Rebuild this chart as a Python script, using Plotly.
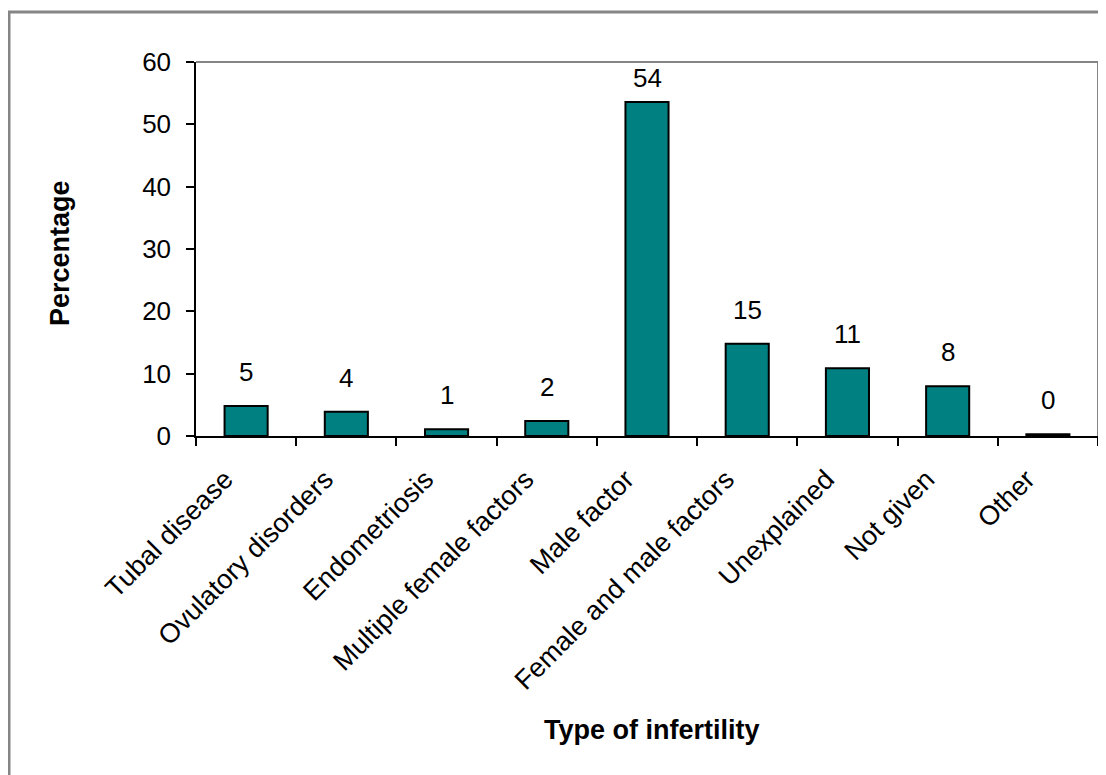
import plotly.graph_objects as go

categories = ["Tubal disease", "Ovulatory disorders", "Endometriosis",
              "Multiple female factors", "Male factor", "Female and male factors",
              "Unexplained", "Not given", "Other"]
percentages = [4.8, 3.9, 1.1, 2.4, 53.6, 14.8, 10.85, 8.0, 0.3]
value_labels = [str(round(v)) for v in percentages]

y_ticks = [0, 10, 20, 30, 40, 50, 60]

# page body has an 8px margin in the browser; lay out in screen pixels and offset
OFF = 8
W, H = 1106, 775
plot_left, plot_right, plot_top, plot_bottom = 196, 1098, 62, 436  # screen px
L = plot_left - OFF
T = plot_top - OFF
plot_w = plot_right - plot_left
plot_h = plot_bottom - plot_top
R = W - L - plot_w
B = H - T - plot_h
ymax = 60
px_per_unit = plot_h / ymax

FONT = "Liberation Sans, Arial, sans-serif"
FS = 26
FS_X = 27

fig = go.Figure()
fig.add_trace(go.Bar(
    x=categories, y=percentages,
    width=0.43,
    marker=dict(color="#008080", line=dict(color="black", width=2)),
    hoverinfo="x+y",
))

# data labels above bars (kept inside the plot area)
for c, v, lab in zip(categories, percentages, value_labels):
    top_px = v * px_per_unit
    room = plot_h - top_px - 16
    shift = min(34, room)
    fig.add_annotation(x=c, y=v, text=lab, showarrow=False,
                       yanchor="middle", yshift=shift,
                       font=dict(family=FONT, size=FS, color="black"))

def sx(px):  # screen x -> paper
    return (px - plot_left) / plot_w

def sy(py):  # screen y -> paper
    return (plot_bottom - py) / plot_h

# outer chart border (gray), extends beyond the visible image on right/bottom
fig.add_shape(type="rect", xref="paper", yref="paper",
              x0=sx(9), x1=sx(1125), y0=sy(800), y1=sy(12),
              line=dict(color="#858585", width=3), layer="below")
# plot-area top and right border (gray)
fig.add_shape(type="line", xref="paper", yref="paper", x0=0, x1=1, y0=1, y1=1,
              line=dict(color="#858585", width=2))
fig.add_shape(type="line", xref="paper", yref="paper", x0=1, x1=1, y0=0, y1=1,
              line=dict(color="#858585", width=2))

# axis titles
fig.add_annotation(xref="paper", yref="paper", x=sx(652), y=sy(730),
                   text="<b>Type of infertility</b>", showarrow=False,
                   xanchor="center", yanchor="middle",
                   font=dict(family=FONT, size=27, color="black"))
fig.add_annotation(xref="paper", yref="paper", x=sx(60), y=sy(253),
                   text="<b>Percentage</b>", showarrow=False, textangle=-90,
                   xanchor="center", yanchor="middle",
                   font=dict(family=FONT, size=27, color="black"))

fig.update_layout(
    width=W, height=H,
    margin=dict(l=L, r=R, t=T, b=B, autoexpand=False),
    paper_bgcolor="white", plot_bgcolor="white",
    showlegend=False,
    font=dict(family=FONT, size=FS, color="black"),
)
fig.update_xaxes(
    type="category", showline=True, linecolor="black", linewidth=1.5,
    ticks="outside", tickson="boundaries", ticklen=8, tickcolor="black", tickwidth=1.5,
    tickangle=-45, tickfont=dict(family=FONT, size=FS_X, color="black"),
    ticklabelstandoff=15, ticklabelshift=-21,
    showgrid=False, zeroline=False,
)
fig.update_yaxes(
    range=[0, ymax], tickvals=y_ticks, showline=True, linecolor="black", linewidth=1.5,
    ticks="outside", ticklen=8, tickcolor="black", tickwidth=1.5,
    tickfont=dict(family=FONT, size=FS, color="black"),
    ticklabelstandoff=10,
    showgrid=False, zeroline=False,
)

fig.write_html("out.html")
